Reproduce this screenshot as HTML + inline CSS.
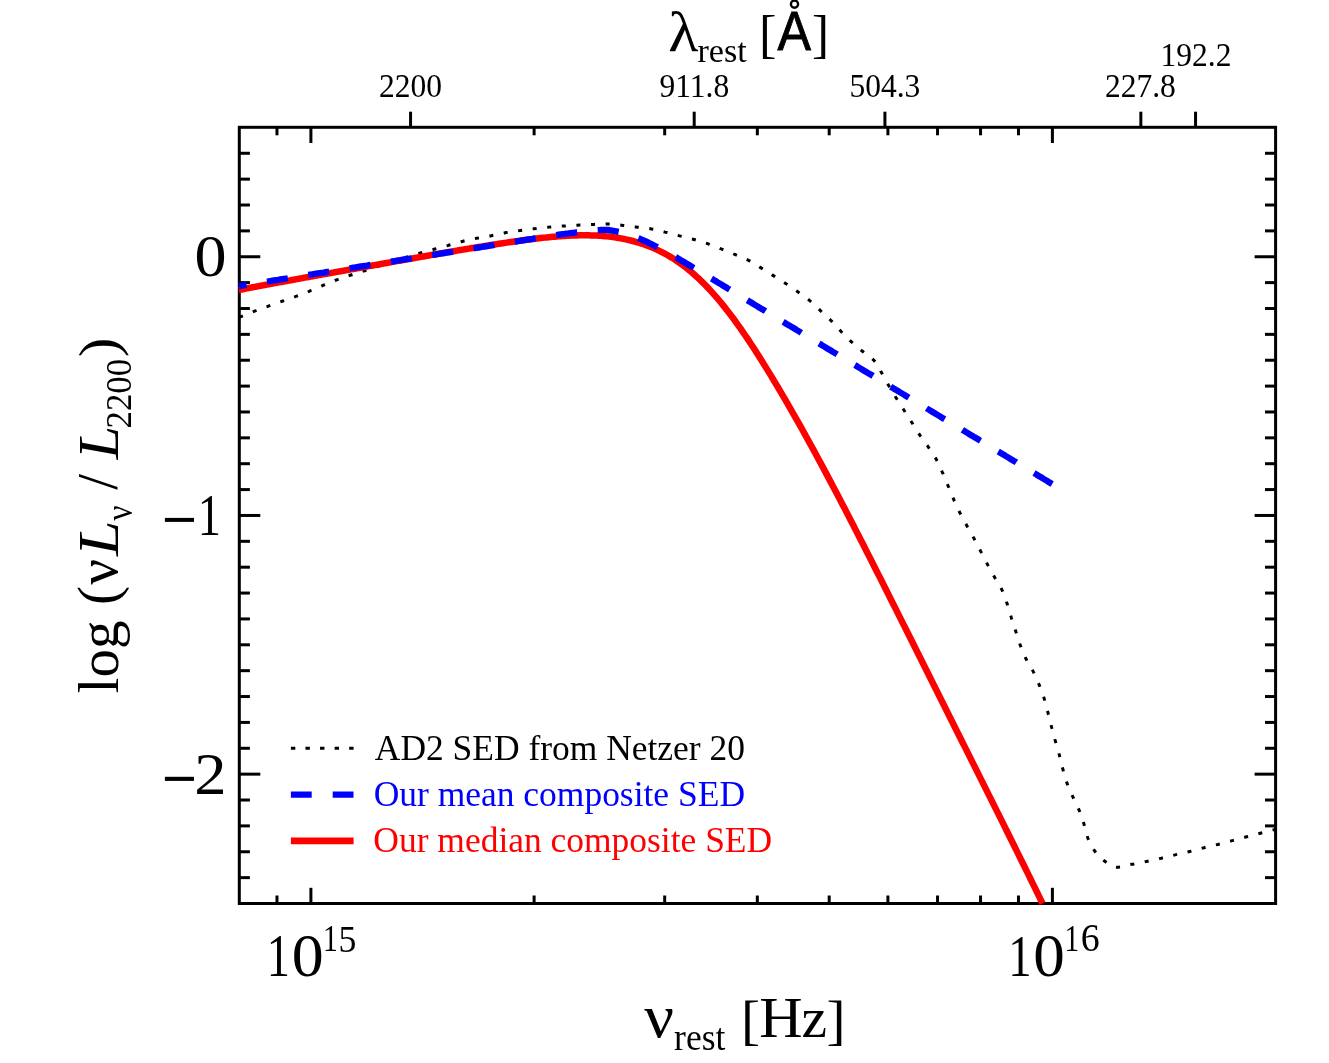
<!DOCTYPE html>
<html><head><meta charset="utf-8"><title>SED</title>
<style>html,body{margin:0;padding:0;background:#fff}body{width:1329px;height:1063px;position:relative;overflow:hidden;font-family:"Liberation Serif",serif}</style>
</head><body>
<svg width="1329" height="1063" viewBox="0 0 1329 1063" style="position:absolute;left:0;top:0;will-change:transform">
<defs><clipPath id="c"><rect x="238.30" y="127.30" width="1037.30" height="776.90"/></clipPath></defs>
<rect x="239.3" y="127.3" width="1036.30" height="776.20" fill="none" stroke="#000" stroke-width="3.0"/>
<line x1="239.30" y1="877.63" x2="249.90" y2="877.63" stroke="#000" stroke-width="3.0"/>
<line x1="1275.60" y1="877.63" x2="1265.00" y2="877.63" stroke="#000" stroke-width="3.0"/>
<line x1="239.30" y1="851.76" x2="249.90" y2="851.76" stroke="#000" stroke-width="3.0"/>
<line x1="1275.60" y1="851.76" x2="1265.00" y2="851.76" stroke="#000" stroke-width="3.0"/>
<line x1="239.30" y1="825.89" x2="249.90" y2="825.89" stroke="#000" stroke-width="3.0"/>
<line x1="1275.60" y1="825.89" x2="1265.00" y2="825.89" stroke="#000" stroke-width="3.0"/>
<line x1="239.30" y1="800.02" x2="249.90" y2="800.02" stroke="#000" stroke-width="3.0"/>
<line x1="1275.60" y1="800.02" x2="1265.00" y2="800.02" stroke="#000" stroke-width="3.0"/>
<line x1="239.30" y1="774.15" x2="260.30" y2="774.15" stroke="#000" stroke-width="3.0"/>
<line x1="1275.60" y1="774.15" x2="1254.60" y2="774.15" stroke="#000" stroke-width="3.0"/>
<line x1="239.30" y1="748.28" x2="249.90" y2="748.28" stroke="#000" stroke-width="3.0"/>
<line x1="1275.60" y1="748.28" x2="1265.00" y2="748.28" stroke="#000" stroke-width="3.0"/>
<line x1="239.30" y1="722.41" x2="249.90" y2="722.41" stroke="#000" stroke-width="3.0"/>
<line x1="1275.60" y1="722.41" x2="1265.00" y2="722.41" stroke="#000" stroke-width="3.0"/>
<line x1="239.30" y1="696.54" x2="249.90" y2="696.54" stroke="#000" stroke-width="3.0"/>
<line x1="1275.60" y1="696.54" x2="1265.00" y2="696.54" stroke="#000" stroke-width="3.0"/>
<line x1="239.30" y1="670.67" x2="249.90" y2="670.67" stroke="#000" stroke-width="3.0"/>
<line x1="1275.60" y1="670.67" x2="1265.00" y2="670.67" stroke="#000" stroke-width="3.0"/>
<line x1="239.30" y1="644.80" x2="249.90" y2="644.80" stroke="#000" stroke-width="3.0"/>
<line x1="1275.60" y1="644.80" x2="1265.00" y2="644.80" stroke="#000" stroke-width="3.0"/>
<line x1="239.30" y1="618.93" x2="249.90" y2="618.93" stroke="#000" stroke-width="3.0"/>
<line x1="1275.60" y1="618.93" x2="1265.00" y2="618.93" stroke="#000" stroke-width="3.0"/>
<line x1="239.30" y1="593.06" x2="249.90" y2="593.06" stroke="#000" stroke-width="3.0"/>
<line x1="1275.60" y1="593.06" x2="1265.00" y2="593.06" stroke="#000" stroke-width="3.0"/>
<line x1="239.30" y1="567.19" x2="249.90" y2="567.19" stroke="#000" stroke-width="3.0"/>
<line x1="1275.60" y1="567.19" x2="1265.00" y2="567.19" stroke="#000" stroke-width="3.0"/>
<line x1="239.30" y1="541.32" x2="249.90" y2="541.32" stroke="#000" stroke-width="3.0"/>
<line x1="1275.60" y1="541.32" x2="1265.00" y2="541.32" stroke="#000" stroke-width="3.0"/>
<line x1="239.30" y1="515.45" x2="260.30" y2="515.45" stroke="#000" stroke-width="3.0"/>
<line x1="1275.60" y1="515.45" x2="1254.60" y2="515.45" stroke="#000" stroke-width="3.0"/>
<line x1="239.30" y1="489.58" x2="249.90" y2="489.58" stroke="#000" stroke-width="3.0"/>
<line x1="1275.60" y1="489.58" x2="1265.00" y2="489.58" stroke="#000" stroke-width="3.0"/>
<line x1="239.30" y1="463.71" x2="249.90" y2="463.71" stroke="#000" stroke-width="3.0"/>
<line x1="1275.60" y1="463.71" x2="1265.00" y2="463.71" stroke="#000" stroke-width="3.0"/>
<line x1="239.30" y1="437.84" x2="249.90" y2="437.84" stroke="#000" stroke-width="3.0"/>
<line x1="1275.60" y1="437.84" x2="1265.00" y2="437.84" stroke="#000" stroke-width="3.0"/>
<line x1="239.30" y1="411.97" x2="249.90" y2="411.97" stroke="#000" stroke-width="3.0"/>
<line x1="1275.60" y1="411.97" x2="1265.00" y2="411.97" stroke="#000" stroke-width="3.0"/>
<line x1="239.30" y1="386.10" x2="249.90" y2="386.10" stroke="#000" stroke-width="3.0"/>
<line x1="1275.60" y1="386.10" x2="1265.00" y2="386.10" stroke="#000" stroke-width="3.0"/>
<line x1="239.30" y1="360.23" x2="249.90" y2="360.23" stroke="#000" stroke-width="3.0"/>
<line x1="1275.60" y1="360.23" x2="1265.00" y2="360.23" stroke="#000" stroke-width="3.0"/>
<line x1="239.30" y1="334.36" x2="249.90" y2="334.36" stroke="#000" stroke-width="3.0"/>
<line x1="1275.60" y1="334.36" x2="1265.00" y2="334.36" stroke="#000" stroke-width="3.0"/>
<line x1="239.30" y1="308.49" x2="249.90" y2="308.49" stroke="#000" stroke-width="3.0"/>
<line x1="1275.60" y1="308.49" x2="1265.00" y2="308.49" stroke="#000" stroke-width="3.0"/>
<line x1="239.30" y1="282.62" x2="249.90" y2="282.62" stroke="#000" stroke-width="3.0"/>
<line x1="1275.60" y1="282.62" x2="1265.00" y2="282.62" stroke="#000" stroke-width="3.0"/>
<line x1="239.30" y1="256.75" x2="260.30" y2="256.75" stroke="#000" stroke-width="3.0"/>
<line x1="1275.60" y1="256.75" x2="1254.60" y2="256.75" stroke="#000" stroke-width="3.0"/>
<line x1="239.30" y1="230.88" x2="249.90" y2="230.88" stroke="#000" stroke-width="3.0"/>
<line x1="1275.60" y1="230.88" x2="1265.00" y2="230.88" stroke="#000" stroke-width="3.0"/>
<line x1="239.30" y1="205.01" x2="249.90" y2="205.01" stroke="#000" stroke-width="3.0"/>
<line x1="1275.60" y1="205.01" x2="1265.00" y2="205.01" stroke="#000" stroke-width="3.0"/>
<line x1="239.30" y1="179.14" x2="249.90" y2="179.14" stroke="#000" stroke-width="3.0"/>
<line x1="1275.60" y1="179.14" x2="1265.00" y2="179.14" stroke="#000" stroke-width="3.0"/>
<line x1="239.30" y1="153.27" x2="249.90" y2="153.27" stroke="#000" stroke-width="3.0"/>
<line x1="1275.60" y1="153.27" x2="1265.00" y2="153.27" stroke="#000" stroke-width="3.0"/>
<line x1="276.97" y1="903.50" x2="276.97" y2="895.50" stroke="#000" stroke-width="3.0"/>
<line x1="276.97" y1="127.30" x2="276.97" y2="135.30" stroke="#000" stroke-width="3.0"/>
<line x1="310.90" y1="903.50" x2="310.90" y2="887.80" stroke="#000" stroke-width="3.0"/>
<line x1="310.90" y1="127.30" x2="310.90" y2="143.00" stroke="#000" stroke-width="3.0"/>
<line x1="534.11" y1="903.50" x2="534.11" y2="895.50" stroke="#000" stroke-width="3.0"/>
<line x1="534.11" y1="127.30" x2="534.11" y2="135.30" stroke="#000" stroke-width="3.0"/>
<line x1="664.69" y1="903.50" x2="664.69" y2="895.50" stroke="#000" stroke-width="3.0"/>
<line x1="664.69" y1="127.30" x2="664.69" y2="135.30" stroke="#000" stroke-width="3.0"/>
<line x1="757.33" y1="903.50" x2="757.33" y2="895.50" stroke="#000" stroke-width="3.0"/>
<line x1="757.33" y1="127.30" x2="757.33" y2="135.30" stroke="#000" stroke-width="3.0"/>
<line x1="829.19" y1="903.50" x2="829.19" y2="895.50" stroke="#000" stroke-width="3.0"/>
<line x1="829.19" y1="127.30" x2="829.19" y2="135.30" stroke="#000" stroke-width="3.0"/>
<line x1="887.90" y1="903.50" x2="887.90" y2="895.50" stroke="#000" stroke-width="3.0"/>
<line x1="887.90" y1="127.30" x2="887.90" y2="135.30" stroke="#000" stroke-width="3.0"/>
<line x1="937.54" y1="903.50" x2="937.54" y2="895.50" stroke="#000" stroke-width="3.0"/>
<line x1="937.54" y1="127.30" x2="937.54" y2="135.30" stroke="#000" stroke-width="3.0"/>
<line x1="980.54" y1="903.50" x2="980.54" y2="895.50" stroke="#000" stroke-width="3.0"/>
<line x1="980.54" y1="127.30" x2="980.54" y2="135.30" stroke="#000" stroke-width="3.0"/>
<line x1="1018.47" y1="903.50" x2="1018.47" y2="895.50" stroke="#000" stroke-width="3.0"/>
<line x1="1018.47" y1="127.30" x2="1018.47" y2="135.30" stroke="#000" stroke-width="3.0"/>
<line x1="1052.40" y1="903.50" x2="1052.40" y2="887.80" stroke="#000" stroke-width="3.0"/>
<line x1="1052.40" y1="127.30" x2="1052.40" y2="143.00" stroke="#000" stroke-width="3.0"/>
<line x1="410.56" y1="127.30" x2="410.56" y2="111.70" stroke="#000" stroke-width="3.0"/>
<line x1="694.20" y1="127.30" x2="694.20" y2="111.70" stroke="#000" stroke-width="3.0"/>
<line x1="884.92" y1="127.30" x2="884.92" y2="111.70" stroke="#000" stroke-width="3.0"/>
<line x1="1140.84" y1="127.30" x2="1140.84" y2="111.70" stroke="#000" stroke-width="3.0"/>
<line x1="1195.56" y1="127.30" x2="1195.56" y2="111.70" stroke="#000" stroke-width="3.0"/>
<g clip-path="url(#c)" fill="none">
<path d="M236.0,318.5 L237.9,317.8 L239.7,317.1 L241.6,316.3 L243.5,315.6 L245.3,314.9 L247.2,314.1 L249.0,313.3 L250.9,312.6 L252.7,311.9 L254.6,311.1 L256.5,310.4 L258.3,309.7 L260.2,309.1 L262.1,308.4 L264.0,307.7 L265.9,307.0 L267.8,306.4 L269.6,305.7 L271.5,305.0 L273.4,304.4 L275.3,303.7 L277.2,303.0 L279.1,302.4 L281.0,301.7 L282.8,301.0 L284.7,300.4 L286.6,299.7 L288.5,299.1 L290.4,298.5 L292.3,297.8 L294.2,297.1 L296.1,296.4 L297.9,295.7 L299.8,295.0 L301.7,294.3 L303.5,293.5 L305.4,292.8 L307.2,292.0 L309.1,291.3 L310.9,290.5 L312.8,289.7 L314.6,289.0 L316.5,288.2 L318.3,287.4 L320.1,286.6 L322.0,285.8 L323.8,285.0 L325.7,284.3 L327.5,283.5 L329.4,282.7 L331.2,282.0 L333.1,281.2 L334.9,280.5 L336.8,279.8 L338.7,279.1 L340.6,278.5 L342.5,277.8 L344.3,277.2 L346.2,276.5 L348.1,275.9 L350.0,275.3 L352.0,274.7 L353.9,274.1 L355.8,273.5 L357.7,272.9 L359.6,272.3 L361.5,271.7 L363.4,271.1 L365.3,270.5 L367.2,269.9 L369.1,269.3 L371.0,268.6 L372.9,268.0 L374.8,267.4 L376.7,266.8 L378.6,266.2 L380.5,265.5 L382.4,264.9 L384.3,264.3 L386.2,263.7 L388.1,263.0 L390.0,262.4 L391.9,261.8 L393.8,261.2 L395.7,260.6 L397.6,259.9 L399.6,259.3 L401.5,258.7 L403.4,258.1 L405.3,257.5 L407.2,256.9 L409.1,256.3 L411.0,255.7 L412.9,255.2 L414.8,254.6 L416.7,254.0 L418.7,253.5 L420.6,252.9 L422.5,252.4 L424.4,251.9 L426.4,251.4 L428.3,250.9 L430.3,250.4 L432.2,249.8 L434.1,249.3 L436.1,248.8 L438.0,248.3 L439.9,247.7 L441.8,247.2 L443.8,246.7 L445.7,246.1 L447.6,245.6 L449.5,245.0 L451.5,244.5 L453.4,243.9 L455.3,243.3 L457.2,242.7 L459.1,242.2 L461.1,241.7 L463.0,241.2 L464.9,240.7 L466.9,240.3 L468.8,239.9 L470.8,239.5 L472.8,239.1 L474.7,238.7 L476.7,238.3 L478.7,237.9 L480.6,237.6 L482.6,237.2 L484.6,236.9 L486.5,236.6 L488.5,236.2 L490.5,235.9 L492.4,235.5 L494.4,235.1 L496.4,234.7 L498.3,234.2 L500.3,233.8 L502.2,233.4 L504.2,233.0 L506.2,232.6 L508.1,232.3 L510.1,232.0 L512.1,231.6 L514.0,231.3 L516.0,231.0 L518.0,230.7 L520.0,230.5 L522.0,230.2 L523.9,229.9 L525.9,229.7 L527.9,229.4 L529.9,229.2 L531.9,228.9 L533.9,228.7 L535.9,228.5 L537.8,228.2 L539.8,228.0 L541.8,227.8 L543.8,227.6 L545.8,227.4 L547.8,227.2 L549.8,227.1 L551.8,226.9 L553.8,226.7 L555.8,226.6 L557.8,226.4 L559.8,226.3 L561.8,226.1 L563.7,226.0 L565.7,225.9 L567.7,225.7 L569.7,225.6 L571.7,225.5 L573.7,225.4 L575.7,225.3 L577.7,225.2 L579.7,225.0 L581.7,224.9 L583.7,224.8 L585.7,224.7 L587.7,224.6 L589.7,224.6 L591.7,224.5 L593.7,224.4 L595.7,224.3 L597.7,224.2 L599.7,224.1 L601.7,224.0 L603.7,224.0 L605.7,223.9 L607.7,223.9 L609.7,223.9 L611.7,224.1 L613.7,224.2 L615.7,224.5 L617.7,224.7 L619.6,225.0 L621.6,225.2 L623.6,225.4 L625.6,225.7 L627.6,225.9 L629.6,226.2 L631.6,226.4 L633.5,226.7 L635.5,226.9 L637.5,227.2 L639.5,227.4 L641.5,227.6 L643.5,227.8 L645.5,228.1 L647.5,228.3 L649.4,228.6 L651.4,228.9 L653.4,229.2 L655.3,229.6 L657.3,230.0 L659.2,230.5 L661.2,231.0 L663.1,231.6 L665.0,232.1 L667.0,232.5 L668.9,233.0 L670.8,233.6 L672.8,234.1 L674.7,234.6 L676.6,235.1 L678.6,235.6 L680.5,236.1 L682.4,236.6 L684.4,237.1 L686.3,237.6 L688.3,238.0 L690.2,238.5 L692.2,239.0 L694.1,239.5 L696.0,240.1 L697.9,240.6 L699.9,241.2 L701.8,241.8 L703.7,242.4 L705.6,243.0 L707.5,243.6 L709.4,244.3 L711.2,245.0 L713.1,245.7 L715.0,246.4 L716.8,247.2 L718.7,247.9 L720.5,248.7 L722.4,249.4 L724.3,250.1 L726.1,250.9 L728.0,251.6 L729.8,252.4 L731.7,253.1 L733.5,253.9 L735.4,254.6 L737.2,255.4 L739.1,256.2 L740.9,256.9 L742.8,257.7 L744.6,258.5 L746.5,259.3 L748.2,260.2 L750.0,261.1 L751.8,262.1 L753.5,263.1 L755.2,264.1 L756.9,265.2 L758.6,266.3 L760.2,267.4 L761.9,268.4 L763.6,269.5 L765.3,270.6 L767.0,271.6 L768.7,272.7 L770.4,273.8 L772.1,274.9 L773.8,275.9 L775.5,277.0 L777.2,278.1 L778.9,279.1 L780.6,280.2 L782.3,281.2 L783.9,282.3 L785.6,283.4 L787.3,284.5 L788.9,285.6 L790.6,286.7 L792.2,287.9 L793.9,289.0 L795.5,290.2 L797.1,291.3 L798.8,292.5 L800.4,293.6 L802.1,294.8 L803.7,296.0 L805.3,297.1 L806.9,298.3 L808.5,299.6 L810.0,300.8 L811.5,302.1 L813.0,303.5 L814.5,304.8 L815.9,306.2 L817.3,307.6 L818.8,309.0 L820.2,310.4 L821.7,311.8 L823.1,313.2 L824.6,314.5 L826.1,315.9 L827.5,317.2 L829.0,318.6 L830.4,320.0 L831.8,321.4 L833.2,322.9 L834.6,324.3 L835.9,325.8 L837.3,327.3 L838.6,328.8 L840.0,330.3 L841.3,331.7 L842.7,333.2 L844.1,334.6 L845.5,336.0 L846.9,337.5 L848.3,338.9 L849.8,340.3 L851.2,341.6 L852.7,343.0 L854.2,344.3 L855.7,345.6 L857.2,346.9 L858.7,348.2 L860.3,349.5 L861.8,350.8 L863.4,352.0 L865.0,353.3 L866.6,354.5 L868.3,355.6 L869.9,356.8 L871.5,358.1 L872.9,359.4 L874.3,360.8 L875.5,362.3 L876.6,363.9 L877.6,365.6 L878.7,367.4 L879.7,369.2 L880.6,371.0 L881.6,372.7 L882.6,374.4 L883.6,376.2 L884.6,377.9 L885.5,379.7 L886.5,381.5 L887.4,383.2 L888.4,385.0 L889.4,386.7 L890.4,388.4 L891.4,390.1 L892.5,391.8 L893.5,393.6 L894.6,395.3 L895.6,397.0 L896.7,398.7 L897.7,400.4 L898.8,402.1 L899.9,403.7 L900.9,405.4 L902.0,407.1 L903.1,408.8 L904.2,410.5 L905.3,412.2 L906.3,413.8 L907.4,415.5 L908.5,417.2 L909.6,418.9 L910.6,420.6 L911.7,422.3 L912.8,424.0 L913.8,425.7 L914.9,427.4 L916.0,429.1 L917.0,430.7 L918.1,432.4 L919.2,434.1 L920.3,435.8 L921.5,437.4 L922.6,439.0 L923.8,440.7 L925.0,442.3 L926.1,443.9 L927.3,445.5 L928.4,447.2 L929.5,448.8 L930.7,450.5 L931.8,452.1 L932.9,453.8 L934.0,455.5 L935.1,457.2 L936.1,458.9 L937.0,460.7 L937.9,462.4 L938.8,464.2 L939.6,466.1 L940.4,467.9 L941.2,469.7 L942.0,471.6 L942.9,473.4 L943.6,475.2 L944.4,477.1 L945.2,478.9 L946.0,480.8 L946.7,482.6 L947.5,484.5 L948.3,486.3 L949.1,488.2 L949.8,490.0 L950.6,491.9 L951.3,493.7 L952.1,495.6 L952.9,497.4 L953.6,499.2 L954.4,501.1 L955.3,502.9 L956.1,504.7 L956.9,506.5 L957.8,508.4 L958.6,510.2 L959.5,512.0 L960.4,513.8 L961.3,515.5 L962.2,517.3 L963.2,519.1 L964.1,520.8 L965.1,522.6 L966.1,524.3 L967.0,526.1 L968.0,527.8 L969.0,529.6 L970.0,531.3 L971.0,533.0 L971.9,534.8 L972.9,536.5 L973.9,538.3 L974.8,540.0 L975.8,541.8 L976.7,543.6 L977.6,545.4 L978.5,547.1 L979.4,548.9 L980.4,550.7 L981.3,552.5 L982.2,554.2 L983.1,556.0 L984.0,557.8 L984.9,559.6 L985.9,561.4 L986.8,563.1 L987.7,564.9 L988.7,566.7 L989.6,568.4 L990.6,570.2 L991.6,571.9 L992.5,573.7 L993.5,575.4 L994.5,577.1 L995.5,578.9 L996.5,580.6 L997.6,582.3 L998.7,584.0 L999.7,585.7 L1000.7,587.5 L1001.6,589.2 L1002.5,591.0 L1003.2,592.8 L1004.0,594.7 L1004.7,596.6 L1005.3,598.5 L1006.0,600.4 L1006.6,602.3 L1007.3,604.2 L1007.9,606.1 L1008.5,608.0 L1009.0,609.9 L1009.6,611.8 L1010.2,613.7 L1010.8,615.7 L1011.3,617.6 L1011.9,619.5 L1012.5,621.4 L1013.1,623.3 L1013.8,625.2 L1014.4,627.1 L1015.0,629.0 L1015.6,630.9 L1016.2,632.8 L1016.8,634.7 L1017.4,636.6 L1018.0,638.5 L1018.7,640.4 L1019.3,642.3 L1019.9,644.2 L1020.6,646.1 L1021.3,648.0 L1022.0,649.8 L1022.8,651.7 L1023.6,653.5 L1024.4,655.4 L1025.2,657.2 L1026.1,659.0 L1027.0,660.8 L1027.9,662.5 L1028.9,664.2 L1030.0,666.0 L1031.0,667.7 L1032.0,669.4 L1033.0,671.1 L1033.9,672.9 L1034.8,674.7 L1035.6,676.5 L1036.4,678.4 L1037.3,680.2 L1038.0,682.0 L1038.8,683.9 L1039.5,685.7 L1040.3,687.6 L1041.0,689.5 L1041.7,691.4 L1042.4,693.2 L1043.0,695.1 L1043.7,697.0 L1044.3,698.9 L1044.8,700.8 L1045.4,702.8 L1045.9,704.7 L1046.4,706.6 L1046.9,708.6 L1047.4,710.5 L1047.9,712.4 L1048.4,714.4 L1048.9,716.3 L1049.4,718.3 L1049.9,720.2 L1050.3,722.1 L1050.8,724.1 L1051.3,726.0 L1051.8,728.0 L1052.3,729.9 L1052.8,731.8 L1053.4,733.8 L1053.9,735.7 L1054.4,737.6 L1054.9,739.5 L1055.5,741.5 L1056.0,743.4 L1056.6,745.3 L1057.1,747.2 L1057.7,749.2 L1058.2,751.1 L1058.8,753.0 L1059.3,754.9 L1059.8,756.9 L1060.3,758.8 L1060.8,760.8 L1061.2,762.7 L1061.7,764.6 L1062.2,766.6 L1062.7,768.5 L1063.2,770.5 L1063.7,772.4 L1064.3,774.3 L1064.8,776.2 L1065.4,778.2 L1066.0,780.1 L1066.6,782.0 L1067.3,783.9 L1068.0,785.7 L1068.7,787.6 L1069.5,789.4 L1070.3,791.3 L1071.1,793.1 L1071.9,794.9 L1072.8,796.7 L1073.6,798.5 L1074.5,800.4 L1075.4,802.1 L1076.3,803.9 L1077.2,805.7 L1078.0,807.5 L1078.8,809.4 L1079.6,811.2 L1080.3,813.1 L1081.0,814.9 L1081.6,816.8 L1082.3,818.7 L1082.9,820.6 L1083.5,822.6 L1084.1,824.5 L1084.6,826.4 L1085.1,828.3 L1085.6,830.3 L1086.1,832.2 L1086.6,834.2 L1087.2,836.1 L1087.8,838.0 L1088.5,839.8 L1089.3,841.7 L1090.2,843.5 L1091.1,845.3 L1092.1,847.0 L1093.2,848.7 L1094.3,850.4 L1095.5,852.0 L1096.7,853.5 L1098.0,855.1 L1099.4,856.6 L1100.9,858.0 L1102.4,859.4 L1103.9,860.6 L1105.5,861.7 L1107.2,862.9 L1108.9,864.0 L1110.7,865.1 L1112.6,866.1 L1114.4,866.8 L1116.3,867.2 L1118.2,867.2 L1120.2,867.0 L1122.1,866.6 L1124.1,866.1 L1126.1,865.6 L1128.1,865.1 L1130.0,864.6 L1132.0,864.2 L1134.0,863.9 L1135.9,863.5 L1137.9,863.1 L1139.9,862.7 L1141.8,862.4 L1143.8,862.0 L1145.7,861.6 L1147.7,861.2 L1149.7,860.8 L1151.6,860.4 L1153.6,859.9 L1155.5,859.5 L1157.5,859.1 L1159.4,858.6 L1161.4,858.2 L1163.3,857.7 L1165.3,857.2 L1167.2,856.8 L1169.2,856.3 L1171.1,855.8 L1173.0,855.3 L1175.0,854.9 L1176.9,854.4 L1178.9,854.0 L1180.8,853.6 L1182.8,853.1 L1184.7,852.7 L1186.7,852.3 L1188.6,851.8 L1190.6,851.3 L1192.5,850.8 L1194.4,850.2 L1196.4,849.7 L1198.3,849.2 L1200.2,848.6 L1202.2,848.1 L1204.1,847.7 L1206.0,847.2 L1208.0,846.7 L1209.9,846.3 L1211.9,845.9 L1213.8,845.4 L1215.8,844.9 L1217.7,844.5 L1219.7,844.0 L1221.6,843.5 L1223.5,843.0 L1225.5,842.5 L1227.4,841.9 L1229.3,841.4 L1231.3,840.9 L1233.2,840.4 L1235.1,839.9 L1237.1,839.4 L1239.0,838.9 L1240.9,838.3 L1242.9,837.8 L1244.8,837.3 L1246.7,836.8 L1248.7,836.3 L1250.6,835.8 L1252.5,835.3 L1254.5,834.8 L1256.4,834.3 L1258.3,833.8 L1260.3,833.3 L1262.2,832.8 L1264.2,832.3 L1266.1,831.8 L1268.0,831.3 L1270.0,830.8 L1271.9,830.3 L1273.9,829.8 L1275.6,829.4" stroke="#000" stroke-width="3.0" stroke-dasharray="4.0 10.640" stroke-dashoffset="11.209"/>
</g>
<path d="M238.8,289.98 L240.8,289.59 L242.8,289.20 L244.8,288.81 L246.8,288.43 L248.8,288.04 L250.8,287.66 L252.8,287.28 L254.8,286.90 L256.8,286.52 L258.8,286.14 L260.8,285.76 L262.8,285.39 L264.8,285.01 L266.8,284.64 L268.8,284.27 L270.8,283.89 L272.8,283.52 L274.8,283.15 L276.8,282.78 L278.8,282.41 L280.8,282.05 L282.8,281.68 L284.8,281.31 L286.8,280.94 L288.8,280.58 L290.8,280.21 L292.8,279.85 L294.8,279.48 L296.8,279.12 L298.8,278.76 L300.8,278.39 L302.8,278.03 L304.8,277.67 L306.8,277.31 L308.8,276.94 L310.8,276.58 L312.8,276.22 L314.8,275.86 L316.8,275.50 L318.8,275.14 L320.8,274.78 L322.8,274.42 L324.8,274.06 L326.8,273.70 L328.8,273.34 L330.8,272.98 L332.8,272.62 L334.8,272.27 L336.8,271.91 L338.8,271.55 L340.8,271.19 L342.8,270.83 L344.8,270.47 L346.8,270.11 L348.8,269.76 L350.8,269.40 L352.8,269.04 L354.8,268.68 L356.8,268.32 L358.8,267.96 L360.8,267.61 L362.8,267.25 L364.8,266.89 L366.8,266.53 L368.8,266.17 L370.8,265.82 L372.8,265.46 L374.8,265.10 L376.8,264.74 L378.8,264.39 L380.8,264.03 L382.8,263.67 L384.8,263.31 L386.8,262.96 L388.8,262.60 L390.8,262.24 L392.8,261.89 L394.8,261.53 L396.8,261.17 L398.8,260.82 L400.8,260.46 L402.8,260.11 L404.8,259.75 L406.8,259.39 L408.8,259.04 L410.8,258.69 L412.8,258.33 L414.8,257.98 L416.8,257.62 L418.8,257.27 L420.8,256.92 L422.8,256.56 L424.8,256.21 L426.8,255.86 L428.8,255.51 L430.8,255.16 L432.8,254.81 L434.8,254.46 L436.8,254.11 L438.8,253.76 L440.8,253.42 L442.8,253.07 L444.8,252.72 L446.8,252.38 L448.8,252.03 L450.8,251.69 L452.8,251.35 L454.8,251.01 L456.8,250.66 L458.8,250.32 L460.8,249.99 L462.8,249.65 L464.8,249.31 L466.8,248.98 L468.8,248.64 L470.8,248.31 L472.8,247.98 L474.8,247.65 L476.8,247.32 L478.8,246.99 L480.8,246.66 L482.8,246.34 L484.8,246.02 L486.8,245.70 L488.8,245.38 L490.8,245.06 L492.8,244.74 L494.8,244.43 L496.8,244.12 L498.8,243.81 L500.8,243.50 L502.8,243.19 L504.8,242.89 L506.8,242.59 L508.8,242.29 L510.8,242.00 L512.8,241.71 L514.8,241.42 L516.8,241.13 L518.8,240.85 L520.8,240.57 L522.8,240.30 L524.8,240.03 L526.8,239.76 L528.8,239.50 L530.8,239.25 L532.8,239.00 L534.8,238.75 L536.8,238.51 L538.8,238.28 L540.8,238.05 L542.8,237.83 L544.8,237.62 L546.8,237.41 L548.8,237.21 L550.8,237.02 L552.8,236.83 L554.8,236.66 L556.8,236.49 L558.8,236.34 L560.8,236.19 L562.8,236.05 L564.8,235.92 L566.8,235.81 L568.8,235.70 L570.8,235.60 L572.8,235.52 L574.8,235.45 L576.8,235.39 L578.8,235.35 L580.8,235.32 L582.8,235.30 L584.8,235.30 L586.8,235.31 L588.8,235.34 L590.8,235.39 L592.8,235.45 L594.8,235.53 L596.8,235.62 L598.8,235.74 L600.8,235.87 L602.8,236.02 L604.8,236.19 L606.8,236.39 L608.8,236.60 L610.8,236.83 L612.8,237.09 L614.8,237.37 L616.8,237.67 L618.8,238.00 L620.8,238.35 L622.8,238.73 L624.8,239.13 L626.8,239.56 L628.8,240.01 L630.8,240.50 L632.8,241.01 L634.8,241.55 L636.8,242.12 L638.8,242.72 L640.8,243.35 L642.8,244.02 L644.8,244.72 L646.8,245.45 L648.8,246.21 L650.8,247.01 L652.8,247.85 L654.8,248.72 L656.8,249.63 L658.8,250.58 L660.8,251.57 L662.8,252.59 L664.8,253.66 L666.8,254.77 L668.8,255.92 L670.8,257.12 L672.8,258.35 L674.8,259.63 L676.8,260.96 L678.8,262.34 L680.8,263.76 L682.8,265.22 L684.8,266.74 L686.8,268.30 L688.8,269.91 L690.8,271.57 L692.8,273.28 L694.8,275.04 L696.8,276.84 L698.8,278.70 L700.8,280.61 L702.8,282.57 L704.8,284.57 L706.8,286.63 L708.8,288.74 L710.8,290.89 L712.8,293.10 L714.8,295.35 L716.8,297.66 L718.8,300.01 L720.8,302.41 L722.8,304.86 L724.8,307.36 L726.8,309.90 L728.8,312.49 L730.8,315.12 L732.8,317.80 L734.8,320.52 L736.8,323.29 L738.8,326.09 L740.8,328.93 L742.8,331.82 L744.8,334.74 L746.8,337.69 L748.8,340.68 L750.8,343.70 L752.8,346.75 L754.8,349.83 L756.8,352.94 L758.8,356.08 L760.8,359.25 L762.8,362.44 L764.8,365.65 L766.8,368.88 L768.8,372.14 L770.8,375.42 L772.8,378.72 L774.8,382.05 L776.8,385.39 L778.8,388.75 L780.8,392.13 L782.8,395.53 L784.8,398.94 L786.8,402.38 L788.8,405.83 L790.8,409.30 L792.8,412.79 L794.8,416.30 L796.8,419.83 L798.8,423.37 L800.8,426.93 L802.8,430.51 L804.8,434.10 L806.8,437.71 L808.8,441.33 L810.8,444.98 L812.8,448.63 L814.8,452.30 L816.8,455.98 L818.8,459.68 L820.8,463.39 L822.8,467.12 L824.8,470.86 L826.8,474.61 L828.8,478.37 L830.8,482.14 L832.8,485.93 L834.8,489.73 L836.8,493.53 L838.8,497.35 L840.8,501.18 L842.8,505.02 L844.8,508.86 L846.8,512.72 L848.8,516.59 L850.8,520.46 L852.8,524.34 L854.8,528.23 L856.8,532.12 L858.8,536.03 L860.8,539.94 L862.8,543.85 L864.8,547.78 L866.8,551.70 L868.8,555.64 L870.8,559.58 L872.8,563.52 L874.8,567.47 L876.8,571.42 L878.8,575.38 L880.8,579.34 L882.8,583.30 L884.8,587.27 L886.8,591.24 L888.8,595.21 L890.8,599.19 L892.8,603.17 L894.8,607.15 L896.8,611.13 L898.8,615.12 L900.8,619.11 L902.8,623.09 L904.8,627.08 L906.8,631.07 L908.8,635.07 L910.8,639.06 L912.8,643.05 L914.8,647.05 L916.8,651.04 L918.8,655.04 L920.8,659.03 L922.8,663.03 L924.8,667.02 L926.8,671.02 L928.8,675.02 L930.8,679.01 L932.8,683.01 L934.8,687.00 L936.8,691.00 L938.8,695.00 L940.8,698.99 L942.8,702.99 L944.8,706.98 L946.8,710.97 L948.8,714.97 L950.8,718.96 L952.8,722.96 L954.8,726.95 L956.8,730.94 L958.8,734.93 L960.8,738.93 L962.8,742.92 L964.8,746.91 L966.8,750.90 L968.8,754.90 L970.8,758.89 L972.8,762.88 L974.8,766.88 L976.8,770.87 L978.8,774.86 L980.8,778.86 L982.8,782.86 L984.8,786.85 L986.8,790.85 L988.8,794.85 L990.8,798.85 L992.8,802.86 L994.8,806.86 L996.8,810.87 L998.8,814.88 L1000.8,818.89 L1002.8,822.91 L1004.8,826.92 L1006.8,830.94 L1008.8,834.97 L1010.8,838.99 L1012.8,843.03 L1014.8,847.06 L1016.8,851.10 L1018.8,855.14 L1020.8,859.19 L1022.8,863.25 L1024.8,867.31 L1026.8,871.37 L1028.8,875.44 L1030.8,879.52 L1032.8,883.60 L1034.8,887.69 L1036.8,891.79 L1038.8,895.90 L1040.8,900.01 L1042.5,903.52" stroke="#f00" stroke-width="6.5" fill="none"/>
<path d="M238.8,286.1 L240.8,285.8 L242.7,285.5 L244.7,285.2 L246.7,284.9 L248.7,284.5 L250.6,284.2 L252.6,283.9 L254.6,283.6 L256.6,283.3 L258.5,282.9 L260.5,282.6 L262.5,282.3 L264.5,282.0 L266.4,281.7 L268.4,281.4 L270.4,281.0 L272.4,280.7 L274.3,280.4 L276.3,280.1 L278.3,279.8 L280.3,279.4 L282.2,279.1 L284.2,278.8 L286.2,278.5 L288.2,278.2 L290.1,277.9 L292.1,277.5 L294.1,277.2 L296.1,276.9 L298.0,276.6 L300.0,276.3 L302.0,276.0 L304.0,275.6 L305.9,275.3 L307.9,275.0 L309.9,274.7 L311.9,274.4 L313.8,274.0 L315.8,273.7 L317.8,273.4 L319.8,273.1 L321.7,272.8 L323.7,272.5 L325.7,272.1 L327.7,271.8 L329.6,271.5 L331.6,271.2 L333.6,270.9 L335.6,270.5 L337.5,270.2 L339.5,269.9 L341.5,269.6 L343.5,269.3 L345.4,269.0 L347.4,268.6 L349.4,268.3 L351.3,268.0 L353.3,267.7 L355.3,267.4 L357.3,267.0 L359.2,266.7 L361.2,266.4 L363.2,266.1 L365.2,265.8 L367.1,265.5 L369.1,265.1 L371.1,264.8 L373.1,264.5 L375.0,264.2 L377.0,263.9 L379.0,263.6 L381.0,263.2 L382.9,262.9 L384.9,262.6 L386.9,262.3 L388.9,262.0 L390.8,261.6 L392.8,261.3 L394.8,261.0 L396.8,260.7 L398.7,260.4 L400.7,260.1 L402.7,259.7 L404.7,259.4 L406.6,259.1 L408.6,258.8 L410.6,258.5 L412.6,258.1 L414.5,257.8 L416.5,257.5 L418.5,257.2 L420.5,256.9 L422.4,256.6 L424.4,256.2 L426.4,255.9 L428.4,255.6 L430.3,255.3 L432.3,255.0 L434.3,254.7 L436.3,254.3 L438.2,254.0 L440.2,253.7 L442.2,253.4 L444.2,253.1 L446.1,252.7 L448.1,252.4 L450.1,252.1 L452.1,251.8 L454.0,251.5 L456.0,251.2 L458.0,250.8 L460.0,250.5 L461.9,250.2 L463.9,249.9 L465.9,249.6 L467.8,249.2 L469.8,248.9 L471.8,248.6 L473.8,248.3 L475.7,248.0 L477.7,247.7 L479.7,247.3 L481.7,247.0 L483.6,246.7 L485.6,246.4 L487.6,246.1 L489.6,245.7 L491.5,245.4 L493.5,245.1 L495.5,244.8 L497.5,244.5 L499.4,244.1 L501.4,243.8 L503.4,243.5 L505.4,243.2 L507.3,242.9 L509.3,242.6 L511.3,242.2 L513.3,241.9 L515.2,241.6 L517.2,241.3 L519.2,241.0 L521.2,240.7 L523.1,240.3 L525.1,240.0 L527.1,239.7 L529.1,239.4 L531.0,239.1 L533.0,238.8 L535.0,238.4 L537.0,238.1 L538.9,237.8 L540.9,237.5 L542.9,237.2 L544.9,236.8 L546.8,236.5 L548.8,236.2 L550.8,235.9 L552.8,235.6 L554.7,235.3 L556.7,235.0 L558.7,234.7 L560.7,234.4 L562.7,234.1 L564.6,233.9 L566.6,233.6 L568.6,233.4 L570.6,233.1 L572.6,232.8 L574.6,232.6 L576.5,232.3 L578.5,232.1 L580.5,231.8 L582.5,231.6 L584.5,231.4 L586.5,231.1 L588.5,230.9 L590.5,230.7 L592.4,230.5 L594.4,230.4 L596.4,230.2 L598.4,230.1 L600.4,230.0 L602.4,229.8 L604.4,229.8 L606.4,229.9 L608.4,230.0 L610.4,230.3 L612.4,230.6 L614.4,231.0 L616.3,231.4 L618.3,231.8 L620.2,232.2 L622.2,232.6 L624.1,233.1 L626.0,233.7 L627.9,234.3 L629.8,235.0 L631.7,235.7 L633.6,236.4 L635.5,237.1 L637.4,237.8 L639.2,238.5 L641.1,239.3 L642.9,240.1 L644.7,240.9 L646.5,241.7 L648.3,242.6 L650.1,243.5 L651.9,244.4 L653.7,245.3 L655.5,246.2 L657.3,247.1 L659.1,248.0 L660.8,248.9 L662.6,249.9 L664.4,250.8 L666.1,251.8 L667.9,252.7 L669.6,253.7 L671.4,254.7 L673.1,255.7 L674.8,256.7 L676.6,257.6 L678.3,258.6 L680.0,259.7 L681.8,260.7 L683.5,261.7 L685.2,262.7 L686.9,263.8 L688.6,264.8 L690.3,265.8 L692.1,266.9 L693.8,267.9 L695.5,268.9 L697.2,269.9 L698.9,271.0 L700.6,272.0 L702.3,273.0 L704.0,274.1 L705.8,275.1 L707.5,276.1 L709.2,277.2 L710.9,278.2 L712.6,279.2 L714.3,280.3 L716.0,281.3 L717.7,282.4 L719.5,283.4 L721.2,284.4 L722.9,285.5 L724.6,286.5 L726.3,287.5 L728.0,288.6 L729.7,289.6 L731.4,290.6 L733.1,291.7 L734.9,292.7 L736.6,293.7 L738.3,294.8 L740.0,295.8 L741.7,296.8 L743.4,297.9 L745.1,298.9 L746.8,299.9 L748.6,301.0 L750.3,302.0 L752.0,303.0 L753.7,304.1 L755.4,305.1 L757.1,306.1 L758.8,307.2 L760.5,308.2 L762.3,309.2 L764.0,310.2 L765.7,311.3 L767.4,312.3 L769.1,313.3 L770.8,314.4 L772.5,315.4 L774.2,316.4 L776.0,317.5 L777.7,318.5 L779.4,319.5 L781.1,320.6 L782.8,321.6 L784.5,322.6 L786.2,323.7 L787.9,324.7 L789.7,325.7 L791.4,326.8 L793.1,327.8 L794.8,328.8 L796.5,329.9 L798.2,330.9 L799.9,331.9 L801.6,333.0 L803.4,334.0 L805.1,335.0 L806.8,336.1 L808.5,337.1 L810.2,338.1 L811.9,339.2 L813.6,340.2 L815.3,341.2 L817.1,342.3 L818.8,343.3 L820.5,344.3 L822.2,345.4 L823.9,346.4 L825.6,347.4 L827.3,348.5 L829.1,349.5 L830.8,350.5 L832.5,351.6 L834.2,352.6 L835.9,353.6 L837.6,354.7 L839.3,355.7 L841.0,356.7 L842.8,357.8 L844.5,358.8 L846.2,359.8 L847.9,360.9 L849.6,361.9 L851.3,362.9 L853.0,364.0 L854.7,365.0 L856.5,366.0 L858.2,367.1 L859.9,368.1 L861.6,369.1 L863.3,370.2 L865.0,371.2 L866.7,372.2 L868.4,373.3 L870.2,374.3 L871.9,375.3 L873.6,376.4 L875.3,377.4 L877.0,378.4 L878.7,379.5 L880.4,380.5 L882.1,381.5 L883.9,382.6 L885.6,383.6 L887.3,384.6 L889.0,385.7 L890.7,386.7 L892.4,387.7 L894.1,388.8 L895.8,389.8 L897.6,390.8 L899.3,391.9 L901.0,392.9 L902.7,393.9 L904.4,394.9 L906.1,396.0 L907.8,397.0 L909.5,398.0 L911.3,399.1 L913.0,400.1 L914.7,401.1 L916.4,402.2 L918.1,403.2 L919.8,404.2 L921.5,405.3 L923.3,406.3 L925.0,407.3 L926.7,408.4 L928.4,409.4 L930.1,410.4 L931.8,411.5 L933.5,412.5 L935.2,413.5 L937.0,414.6 L938.7,415.6 L940.4,416.6 L942.1,417.7 L943.8,418.7 L945.5,419.7 L947.2,420.8 L948.9,421.8 L950.7,422.8 L952.4,423.9 L954.1,424.9 L955.8,425.9 L957.5,427.0 L959.2,428.0 L960.9,429.0 L962.6,430.1 L964.4,431.1 L966.1,432.1 L967.8,433.1 L969.5,434.2 L971.2,435.2 L972.9,436.2 L974.6,437.3 L976.4,438.3 L978.1,439.3 L979.8,440.4 L981.5,441.4 L983.2,442.4 L984.9,443.5 L986.6,444.5 L988.3,445.5 L990.1,446.6 L991.8,447.6 L993.5,448.6 L995.2,449.7 L996.9,450.7 L998.6,451.7 L1000.3,452.8 L1002.0,453.8 L1003.8,454.8 L1005.5,455.9 L1007.2,456.9 L1008.9,457.9 L1010.6,459.0 L1012.3,460.0 L1014.0,461.0 L1015.8,462.0 L1017.5,463.1 L1019.2,464.1 L1020.9,465.1 L1022.6,466.2 L1024.3,467.2 L1026.0,468.2 L1027.7,469.3 L1029.5,470.3 L1031.2,471.3 L1032.9,472.4 L1034.6,473.4 L1036.3,474.4 L1038.0,475.5 L1039.7,476.5 L1041.5,477.5 L1043.2,478.6 L1044.9,479.6 L1046.6,480.6 L1048.3,481.7 L1050.0,482.7 L1051.7,483.7 L1052.7,484.3" stroke="#00f" stroke-width="6.3" fill="none" stroke-dasharray="21.2 20.655" stroke-dashoffset="13.36"/>
<path d="M290.9,748.3 H353.6" stroke="#000" stroke-width="3.0" stroke-dasharray="4.4 10.17" fill="none"/>
<path d="M290.9,794.7 H353.6" stroke="#00f" stroke-width="6.3" stroke-dasharray="20.8 21" fill="none"/>
<path d="M290.9,840.9 H353.6" stroke="#f00" stroke-width="6.8" fill="none"/>
<text id="tt_lam" transform="translate(668.14,50.82) scale(1.1086,1)" font-size="56.07" font-family="Liberation Serif, serif" text-anchor="start" fill="#000">λ</text>
<text id="tt_rest" transform="translate(697.50,61.60) scale(1.0239,1)" font-size="33.36" font-family="Liberation Serif, serif" text-anchor="start" fill="#000">rest</text>
<text id="tt_lb" transform="translate(759.00,51.50) scale(1.0046,1)" font-size="52.11" font-family="Liberation Serif, serif" text-anchor="start" fill="#000">[</text>
<text id="tt_A" transform="translate(777.45,49.80) scale(0.8997,1)" font-size="55.7" font-family="Liberation Sans, sans-serif" stroke="#000" stroke-width="0.9" stroke-linejoin="miter" text-anchor="start" fill="#000">A</text>
<text id="tt_rb" transform="translate(812.00,51.50) scale(0.9811,1)" font-size="52.11" font-family="Liberation Serif, serif" text-anchor="start" fill="#000">]</text>
<text id="tl_2200" transform="translate(410.52,96.73) scale(0.9545,1)" font-size="33.0" font-family="Liberation Serif, serif" text-anchor="middle" fill="#000">2200</text>
<text id="tl_911" transform="translate(694.31,96.80) scale(0.9545,1)" font-size="33.0" font-family="Liberation Serif, serif" text-anchor="middle" fill="#000">911.8</text>
<text id="tl_504" transform="translate(884.90,96.80) scale(0.9545,1)" font-size="33.0" font-family="Liberation Serif, serif" text-anchor="middle" fill="#000">504.3</text>
<text id="tl_227" transform="translate(1140.34,97.10) scale(0.9545,1)" font-size="33.0" font-family="Liberation Serif, serif" text-anchor="middle" fill="#000">227.8</text>
<text id="tl_192" transform="translate(1195.95,66.05) scale(0.9545,1)" font-size="33.0" font-family="Liberation Serif, serif" text-anchor="middle" fill="#000">192.2</text>
<text id="yl_0" transform="translate(194.54,275.92) scale(1.0682,1)" font-size="60.0" font-family="Liberation Serif, serif" text-anchor="start" fill="#000">0</text>
<text id="yl_1" transform="translate(197.86,535.04) scale(0.7773,1)" font-size="59.65" font-family="Liberation Serif, serif" text-anchor="start" fill="#000">1</text>
<text id="yl_2" transform="translate(194.36,793.50) scale(1.0861,1)" font-size="59.5" font-family="Liberation Serif, serif" text-anchor="start" fill="#000">2</text>
<text id="xl_15a" transform="translate(266.72,976.30) scale(0.7615,1)" font-size="60.82" font-family="Liberation Serif, serif" text-anchor="start" fill="#000">1</text>
<text id="xl_15a0" transform="translate(291.64,976.16) scale(1.0417,1)" font-size="61.28" font-family="Liberation Serif, serif" text-anchor="start" fill="#000">0</text>
<text id="xl_15b" transform="translate(323.10,951.36) scale(0.7888,1)" font-size="37.53" font-family="Liberation Serif, serif" text-anchor="start" fill="#000">1</text>
<text id="xl_15b5" transform="translate(338.61,951.50) scale(0.9411,1)" font-size="38.02" font-family="Liberation Serif, serif" text-anchor="start" fill="#000">5</text>
<text id="xl_16a" transform="translate(1008.16,976.07) scale(0.7766,1)" font-size="60.08" font-family="Liberation Serif, serif" text-anchor="start" fill="#000">1</text>
<text id="xl_16a0" transform="translate(1033.30,975.74) scale(1.0301,1)" font-size="61.28" font-family="Liberation Serif, serif" text-anchor="start" fill="#000">0</text>
<text id="xl_16b" transform="translate(1064.47,950.83) scale(0.7893,1)" font-size="37.03" font-family="Liberation Serif, serif" text-anchor="start" fill="#000">1</text>
<text id="xl_16b6" transform="translate(1080.70,950.60) scale(0.9586,1)" font-size="39.65" font-family="Liberation Serif, serif" text-anchor="start" fill="#000">6</text>
<text id="bt_nu" transform="translate(644.23,1037.25) scale(1.0748,1)" font-size="61.29" font-family="Liberation Serif, serif" text-anchor="start" fill="#000">ν</text>
<text id="bt_rest" transform="translate(674.07,1050.48) scale(0.9473,1)" font-size="37.53" font-family="Liberation Serif, serif" text-anchor="start" fill="#000">rest</text>
<text id="bt_lb" transform="translate(741.00,1038.90) scale(1.0248,1)" font-size="55.72" font-family="Liberation Serif, serif" text-anchor="start" fill="#000">[</text>
<text id="bt_H" transform="translate(759.19,1037.45) scale(1.0456,1)" font-size="57.35" font-family="Liberation Serif, serif" text-anchor="start" fill="#000">H</text>
<text id="bt_z" x="801.57" y="1037.40" font-size="57.5" font-family="Liberation Serif, serif" text-anchor="start" fill="#000">z</text>
<text id="bt_rb" transform="translate(826.50,1038.90) scale(1.025,1)" font-size="55.72" font-family="Liberation Serif, serif" text-anchor="start" fill="#000">]</text>
<text id="lt_log" transform="translate(118.30,693.40) rotate(-90)" font-size="57" font-family="Liberation Serif, serif" text-anchor="start" fill="#000">log</text>
<text id="lt_lp" transform="translate(117.30,604.94) rotate(-90)" font-size="57" font-family="Liberation Serif, serif" text-anchor="start" fill="#000">(</text>
<text id="lt_nu" transform="translate(117.30,584.65) rotate(-90)" font-size="57" font-family="Liberation Serif, serif" text-anchor="start" fill="#000">ν</text>
<text id="lt_L1" transform="translate(117.80,555.89) rotate(-90) scale(1.13,1)" font-size="56.4" font-family="Liberation Serif, serif" font-style="italic" text-anchor="start" fill="#000">L</text>
<text id="lt_snu" transform="translate(131.52,520.62) rotate(-90) scale(0.8963,1)" font-size="36.99" font-family="Liberation Serif, serif" text-anchor="start" fill="#000">ν</text>
<text id="lt_sl" transform="translate(117.30,489.76) rotate(-90)" font-size="57" font-family="Liberation Serif, serif" text-anchor="start" fill="#000">/</text>
<text id="lt_L2" transform="translate(117.80,459.14) rotate(-90) scale(1.0632,1)" font-size="56.4" font-family="Liberation Serif, serif" font-style="italic" text-anchor="start" fill="#000">L</text>
<text id="lt_2200" transform="translate(131.40,428.50) rotate(-90) scale(0.9553,1)" font-size="36.41" font-family="Liberation Serif, serif" text-anchor="start" fill="#000">2200</text>
<text id="lt_rp" transform="translate(116.79,357.35) rotate(-90) scale(1.0704,1)" font-size="54.58" font-family="Liberation Serif, serif" text-anchor="start" fill="#000">)</text>
<text id="lg_1" x="374.85" y="759.70" font-size="35.45" font-family="Liberation Serif, serif" text-anchor="start" fill="#000">AD2 SED from Netzer 20</text>
<text id="lg_2" x="373.63" y="806.10" font-size="35.47" font-family="Liberation Serif, serif" text-anchor="start" fill="#00f">Our mean composite SED</text>
<text id="lg_3" x="373.35" y="852.40" font-size="35.46" font-family="Liberation Serif, serif" text-anchor="start" fill="#f00">Our median composite SED</text>
<circle cx="794.5" cy="4.15" r="3.6" fill="none" stroke="#000" stroke-width="2.3"/>
<rect x="164.9" y="517.9" width="29.1" height="4.0" fill="#000"/>
<rect x="164.9" y="776.8" width="29.1" height="4.1" fill="#000"/>
</svg>
</body></html>
